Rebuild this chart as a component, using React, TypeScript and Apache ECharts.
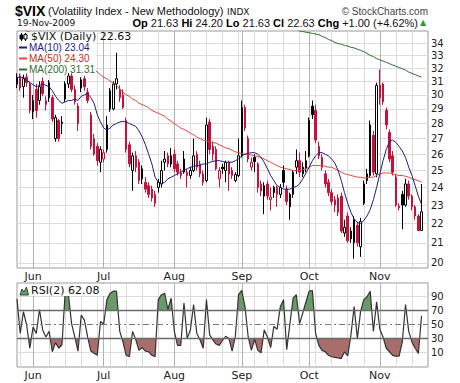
import React, { useEffect, useRef } from 'react';
import * as echarts from 'echarts';

// ---------- categories (trading days) ----------
const START_DATE = '2009-05-22';
const END_DATE = '2009-11-19';
const HOLIDAYS = ['2009-05-25', '2009-07-03', '2009-09-07'];
const MONTHS = ['Jan', 'Feb', 'Mar', 'Apr', 'May', 'Jun', 'Jul', 'Aug', 'Sep', 'Oct', 'Nov', 'Dec'];

function buildTradingDays(): string[] {
  const out: string[] = [];
  const d = new Date(START_DATE + 'T00:00:00Z');
  const end = new Date(END_DATE + 'T00:00:00Z');
  while (d.getTime() <= end.getTime()) {
    const dow = d.getUTCDay();
    const key = d.toISOString().slice(0, 10);
    if (dow !== 0 && dow !== 6 && HOLIDAYS.indexOf(key) < 0) out.push(key);
    d.setUTCDate(d.getUTCDate() + 1);
  }
  return out;
}
const dates = buildTradingDays();

// ---------- price data ($VIX daily OHLC) ----------
const opens = [
  30.8, 31.4, 30.6, 31.3, 30.8, 28.8, 30.4, 29.6, 31.0, 29.3,
  30.9, 29.8, 27.0, 28.2, 28.0, 29.7, 30.8, 31.4, 30.4, 29.2,
  30.5, 31.2, 30.2, 28.6, 27.0, 26.5, 25.5, 25.7, 26.3, 30.3,
  29.0, 30.8, 30.4, 30.0, 28.2, 26.6, 25.0, 25.9, 25.5, 25.1,
  24.3, 24.1, 23.9, 23.6, 24.0, 24.2, 25.5, 25.9, 25.4, 26.0,
  25.4, 24.7, 24.9, 24.9, 24.7, 25.0, 26.0, 25.4, 24.8, 24.4,
  28.1, 26.5, 26.3, 24.5, 25.2, 25.0, 25.5, 25.0, 24.4, 24.7,
  25.9, 29.1, 27.0, 25.2, 25.8, 25.4, 24.2, 23.5, 24.2, 23.3,
  24.0, 24.0, 23.6, 25.0, 23.9, 22.9, 23.6, 25.2, 25.6, 24.8,
  25.1, 25.9, 29.2, 28.9, 26.5, 25.8, 24.8, 24.3, 23.7, 23.3,
  23.4, 23.5, 21.5, 22.4, 21.6, 21.0, 21.9, 20.8, 23.1, 24.4,
  24.7, 27.2, 24.8, 30.7, 30.8, 28.9, 27.4, 25.9, 24.6, 22.85,
  23.6, 23.0, 24.2, 23.5, 22.9, 22.4, 21.63,
];
const highs = [
  31.6, 31.6, 31.5, 31.6, 31.0, 30.0, 30.8, 31.0, 31.3, 29.9,
  31.1, 30.0, 28.6, 28.3, 28.5, 31.0, 31.7, 31.6, 30.7, 29.4,
  31.3, 31.4, 30.5, 28.8, 27.3, 26.7, 26.5, 26.3, 28.5, 30.5,
  31.0, 33.2, 30.7, 30.4, 28.4, 26.8, 26.1, 26.2, 25.7, 25.3,
  24.6, 24.3, 24.1, 23.8, 24.5, 25.6, 26.2, 26.1, 26.4, 26.3,
  25.6, 25.1, 26.2, 25.1, 25.2, 27.0, 26.2, 25.6, 25.0, 28.4,
  28.3, 26.8, 26.5, 25.2, 25.4, 25.6, 25.6, 25.2, 24.9, 27.0,
  29.6, 29.3, 27.2, 25.8, 26.0, 25.5, 24.4, 24.3, 24.4, 24.0,
  24.1, 24.1, 24.2, 25.3, 24.1, 23.7, 25.0, 26.3, 26.1, 25.5,
  26.2, 28.4, 29.6, 29.3, 26.8, 26.0, 25.0, 24.5, 23.9, 23.5,
  23.6, 23.7, 22.2, 22.6, 21.8, 22.4, 22.1, 22.3, 24.4, 25.1,
  28.2, 27.5, 30.9, 31.9, 30.9, 29.1, 27.6, 26.2, 24.8, 23.1,
  23.8, 24.5, 24.4, 23.6, 23.0, 22.5, 24.2,
];
const lows = [
  30.5, 30.3, 29.8, 30.6, 28.7, 28.3, 28.4, 29.3, 29.9, 28.9,
  29.5, 28.1, 26.8, 26.8, 27.3, 29.5, 30.5, 30.2, 29.3, 27.5,
  30.2, 30.3, 29.4, 26.3, 25.9, 25.3, 24.9, 25.5, 26.1, 28.8,
  28.9, 30.4, 29.5, 29.0, 26.1, 25.2, 23.8, 24.9, 24.2, 24.2,
  23.7, 23.4, 23.2, 22.9, 23.7, 24.0, 25.0, 25.2, 25.2, 24.9,
  24.7, 24.5, 24.8, 24.0, 24.5, 24.9, 25.0, 24.6, 24.1, 24.3,
  26.0, 25.6, 25.0, 24.0, 24.8, 24.3, 23.8, 24.5, 24.3, 24.6,
  25.8, 27.5, 25.5, 25.0, 24.9, 23.7, 23.5, 22.5, 23.3, 22.7,
  23.4, 22.9, 23.4, 24.0, 23.0, 22.2, 23.4, 24.8, 24.6, 24.6,
  24.9, 25.8, 28.3, 26.7, 25.7, 25.0, 24.0, 23.5, 23.0, 22.6,
  22.4, 21.5, 21.3, 21.0, 21.0, 20.2, 20.8, 20.3, 23.0, 24.2,
  24.6, 24.7, 24.6, 29.3, 29.3, 27.6, 25.5, 24.7, 22.9, 22.7,
  21.7, 22.9, 23.3, 22.7, 22.2, 21.6, 21.63,
];
const closes = [
  31.3, 30.5, 31.2, 30.9, 28.9, 29.6, 28.9, 30.6, 30.1, 29.6,
  29.8, 28.3, 28.4, 27.0, 28.1, 30.8, 31.4, 30.4, 29.5, 28.0,
  31.1, 30.6, 29.6, 26.5, 26.0, 25.6, 26.3, 26.1, 27.9, 29.0,
  30.8, 31.2, 29.8, 29.1, 26.3, 25.4, 25.9, 25.2, 24.4, 24.5,
  23.9, 23.6, 23.4, 23.1, 24.3, 25.0, 25.7, 25.4, 25.9, 25.1,
  24.9, 24.85, 25.7, 24.7, 25.0, 25.9, 25.2, 24.8, 24.3, 27.9,
  26.3, 26.0, 25.1, 25.0, 25.1, 25.5, 24.8, 24.7, 24.75, 25.9,
  29.1, 27.7, 25.7, 25.5, 25.55, 24.0, 23.8, 24.1, 23.5, 23.45,
  23.7, 23.6, 24.0, 24.3, 23.2, 23.6, 24.9, 25.6, 24.9, 25.2,
  25.6, 28.2, 28.6, 26.9, 25.9, 25.2, 24.2, 23.7, 23.2, 23.0,
  22.6, 21.6, 21.8, 21.1, 21.2, 22.2, 21.0, 22.1, 24.2, 24.8,
  27.9, 24.9, 30.7, 29.8, 29.5, 27.9, 25.7, 24.9, 23.0, 22.95,
  23.0, 24.2, 23.5, 22.9, 22.4, 21.63, 22.63,
];

// ---------- overlays ----------
const ma10 = [
  31.3, 31.3, 31.3, 31.1, 30.9, 30.75, 30.6, 30.7, 30.8, 30.7,
  30.6, 30.3, 29.9, 29.6, 29.4, 29.5, 29.6, 29.6, 29.7, 29.6,
  29.9, 30.0, 30.1, 29.8, 29.4, 28.6, 28.1, 27.7, 27.55, 27.7,
  27.9, 28.0, 28.1, 28.15, 28.1, 28.0, 27.9, 27.8, 27.5, 27.1,
  26.6, 26.0, 25.4, 24.6, 24.3, 24.2, 24.3, 24.5, 24.6, 24.7,
  24.8, 24.9, 25.0, 25.1, 25.2, 25.25, 25.3, 25.3, 25.4, 25.4,
  25.5, 25.55, 25.6, 25.6, 25.55, 25.5, 25.5, 25.5, 25.6, 25.7,
  25.9, 26.0, 26.05, 26.1, 26.1, 26.0, 25.8, 25.5, 25.1, 24.7,
  24.4, 24.1, 24.0, 23.9, 23.9, 23.9, 24.0, 24.05, 24.2, 24.5,
  24.85, 25.2, 25.6, 25.9, 26.1, 26.1, 26.0, 25.9, 25.7, 25.45,
  25.0, 24.4, 23.7, 23.1, 22.6, 22.25, 22.05, 22.0, 22.15, 22.4,
  22.75, 23.3, 24.0, 24.8, 25.6, 26.3, 26.8, 26.9, 26.75, 26.5,
  26.2, 25.8, 25.2, 24.7, 24.1, 23.5, 23.04,
];
const ma50 = [
  35.5, 35.4, 35.2, 35.0, 34.9, 34.7, 34.5, 34.3, 34.2, 34.0,
  33.8, 33.7, 33.5, 33.4, 33.2, 33.1, 33.0, 32.9, 32.8, 32.6,
  32.5, 32.4, 32.2, 32.1, 31.9, 31.7, 31.5, 31.3, 31.2, 31.0,
  30.9, 30.7, 30.4, 30.2, 30.0, 29.9, 29.7, 29.6, 29.4, 29.3,
  29.2, 29.1, 28.9, 28.8, 28.7, 28.6, 28.5, 28.3, 28.15, 28.0,
  27.85, 27.7, 27.6, 27.5, 27.35, 27.25, 27.1, 27.0, 26.9, 26.85,
  26.8, 26.75, 26.7, 26.6, 26.5, 26.4, 26.35, 26.25, 26.15, 26.1,
  26.05, 26.0, 26.0, 25.95, 25.9, 25.85, 25.8, 25.7, 25.6, 25.5,
  25.4, 25.3, 25.2, 25.15, 25.1, 25.05, 25.0, 25.0, 25.0, 25.05,
  25.1, 25.2, 25.3, 25.3, 25.3, 25.3, 25.25, 25.2, 25.2, 25.1,
  25.0, 24.9, 24.8, 24.75, 24.7, 24.65, 24.6, 24.6, 24.55, 24.55,
  24.6, 24.6, 24.7, 24.8, 24.85, 24.85, 24.85, 24.8, 24.75, 24.7,
  24.7, 24.65, 24.6, 24.5, 24.45, 24.4, 24.3,
];
// MA(200) lies above the chart until late September
const MA200_HIDDEN_DAYS = 84;
const ma200Tail = [
  35.5, 35.4, 35.3, 35.15, 35.0, 34.95, 34.9, 34.85, 34.8, 34.75,
  34.7, 34.55, 34.45, 34.3, 34.2, 34.05, 33.95, 33.9, 33.8, 33.75,
  33.65, 33.6, 33.5, 33.4, 33.3, 33.15, 33.0, 32.9, 32.75, 32.65,
  32.55, 32.45, 32.35, 32.25, 32.15, 32.05, 31.95, 31.85, 31.7, 31.6,
  31.5, 31.4, 31.31,
];
const ma200: (number | null)[] = (new Array(MA200_HIDDEN_DAYS).fill(null) as (number | null)[]).concat(ma200Tail);

const rsi2 = [
  86, 37, 68, 49, 16, 46, 37, 71, 42, 32,
  40, 11, 24, 16, 21, 95, 93, 51, 32, 12,
  63, 56, 32, 12, 9, 6, 54, 50, 85, 94,
  97, 97, 40, 25, 6, 4, 40, 28, 13, 17,
  12, 11, 6, 4, 85, 92, 94, 71, 87, 40,
  20, 20, 80, 30, 42, 78, 37, 28, 16, 85,
  35, 28, 22, 20, 27, 33, 30, 12, 33, 92,
  98, 75, 32, 13, 29, 13, 9.5, 42, 32, 17,
  47, 43, 75, 85, 14, 51, 87, 92, 51, 66,
  82, 97, 98, 37, 20, 13, 11, 6, 4, 3,
  2.4, 1.4, 11, 5, 35, 75, 30, 68, 85, 89,
  97, 40, 82, 43, 32, 16, 11, 6, 4.8, 4.8,
  25, 78, 40, 25, 16, 8.6, 62.08,
];

// ---------- axis ticks ----------
const priceTicks = [20, 21, 22, 23, 24, 25, 26, 27, 28, 29, 30, 31, 32, 33, 34];
const PRICE_MIN = 19.76;
const PRICE_MAX = 35.0;
const rsiLabels = [10, 30, 50, 70, 90];
const rsiGridLevels = [10, 90];
const RSI_UPPER = 70;
const RSI_MID = 50;
const RSI_LOWER = 30;
const RSI_MIN = -10.6;
const RSI_MAX = 108.6;

// ---------- styles ----------
const SANS = 'Liberation Sans, Arial, sans-serif';
const VERD = 'DejaVu Sans, Verdana, sans-serif';
const RED = '#c8103c';
const BLACK = '#000000';
const NAVY = '#1d1d80';
const MA50_COLOR = '#e2463a';
const MA200_COLOR = '#2f6f2f';
const GREEN_FILL = '#6a9a6a';
const RED_FILL = '#a86e6c';
const WEEK_LINE = '#dcdcdc';
const MONTH_LINE = '#b2b2b2';
const H_LINE = '#dcdcdc';
const SLOT_MAX = 128;

const ln = (v: number) => Math.log(v);

function buildOption(): any {
  const last = closes.length - 1;
  const dow = (s: string) => new Date(s + 'T00:00:00Z').getUTCDay();
  const weekStart = dates.map((d, i) => i > 0 && dow(d) < dow(dates[i - 1]));
  const monthStart = dates.map((d, i) => i > 0 && d.slice(5, 7) !== dates[i - 1].slice(5, 7));
  const monthName = (v: string) => (v ? MONTHS[parseInt(v.slice(5, 7), 10) - 1] : '');

  const candleData = dates.map((_, i) => {
    const o = opens[i];
    const c = closes[i];
    const prev = i > 0 ? closes[i - 1] : o;
    const col = c < prev ? RED : BLACK;
    const fill = c > o ? '#ffffff' : col;
    return {
      value: [ln(o), ln(c), ln(lows[i]), ln(highs[i])],
      itemStyle: { color: fill, color0: fill, borderColor: col, borderColor0: col, borderWidth: 1 },
    };
  });

  const monthLabel = {
    show: true,
    interval: (i: number) => !!monthStart[i],
    formatter: (v: string) => monthName(v),
    margin: 3,
    fontSize: 11,
    fontFamily: VERD,
    color: '#222',
  };
  const catAxis = (gridIndex: number, extra: any) => ({
    type: 'category',
    gridIndex,
    data: dates,
    boundaryGap: false,
    max: SLOT_MAX,
    axisLine: { show: false },
    axisTick: { show: false },
    ...extra,
  });
  const weekAxis = (g: number) =>
    catAxis(g, {
      axisLabel: monthLabel,
      splitLine: { show: true, interval: (i: number) => !!weekStart[i], lineStyle: { color: WEEK_LINE, width: 1 } },
    });
  const monthAxis = (g: number) =>
    catAxis(g, {
      axisLabel: { show: false },
      splitLine: { show: true, interval: (i: number) => !!monthStart[i], lineStyle: { color: MONTH_LINE, width: 1 } },
    });

  const lnTicks = priceTicks.map(ln);

  const lineSeries = (data: (number | null)[], color: string) => ({
    type: 'line',
    xAxisIndex: 0,
    yAxisIndex: 0,
    data: data.map((v) => (v == null ? null : ln(v))),
    showSymbol: false,
    symbol: 'none',
    silent: true,
    connectNulls: false,
    lineStyle: { color, width: 1 },
    itemStyle: { color },
    z: 3,
  });

  const f2 = (v: number) => v.toFixed(2);
  const chg = closes[last] - closes[last - 1];
  const pct = (chg / closes[last - 1]) * 100;
  const sign = (v: number) => (v >= 0 ? '+' : '');
  const lastDate = dates[last];
  const dateText = `${parseInt(lastDate.slice(8, 10), 10)}-${monthName(lastDate)}-${lastDate.slice(0, 4)}`;
  const quote =
    `{b|Op} {n|${f2(opens[last])}} {b|Hi} {n|${f2(highs[last])}} {b|Lo} {n|${f2(lows[last])}} ` +
    `{b|Cl} {n|${f2(closes[last])}} {b|Chg} {n|${sign(chg)}${f2(chg)} (${sign(pct)}${f2(pct)}%)}`;

  const txt = (x: number, y: number, text: string, size: number, family: string, fill: string, extra: any = {}) => ({
    type: 'text',
    x,
    y,
    silent: true,
    z: 101,
    style: { text, fontSize: size, fontFamily: family, fill, verticalAlign: 'middle', ...extra },
  });
  const dash = (y: number, color: string) => ({
    type: 'line',
    silent: true,
    z: 101,
    shape: { x1: 19, y1: y, x2: 27, y2: y },
    style: { stroke: color, lineWidth: 2 },
  });

  const graphics = [
    txt(15, 11, '$VIX', 14, SANS, '#000', { fontWeight: 'bold' }),
    txt(48, 11, '(Volatility Index - New Methodology)', 11, SANS, '#111'),
    txt(227, 12, 'INDX', 9, VERD, '#111'),
    txt(428, 11, '\u00A9 StockCharts.com', 10, SANS, '#444', { align: 'right' }),
    txt(17, 23, dateText, 9, VERD, '#111'),
    {
      type: 'text',
      x: 418,
      y: 23,
      silent: true,
      z: 101,
      style: {
        text: quote,
        align: 'right',
        verticalAlign: 'middle',
        fontSize: 11,
        fontFamily: SANS,
        fill: '#111',
        rich: {
          b: { fontWeight: 'bold', fontSize: 11, fontFamily: SANS, fill: '#000' },
          n: { fontSize: 11, fontFamily: SANS, fill: '#111' },
        },
      },
    },
    txt(423, 22.5, '\u25B2', 8, VERD, '#2e9a2e', { align: 'center' }),
    // main legend
    { type: 'rect', silent: true, z: 100, shape: { x: 18, y: 32, width: 78, height: 41 }, style: { fill: '#ffffff' } },
    { type: 'line', silent: true, z: 101, shape: { x1: 21.5, y1: 33, x2: 21.5, y2: 41 }, style: { stroke: '#000', lineWidth: 1 } },
    { type: 'rect', silent: true, z: 101, shape: { x: 20, y: 35, width: 3, height: 4 }, style: { fill: '#000', stroke: '#000', lineWidth: 1 } },
    { type: 'line', silent: true, z: 101, shape: { x1: 25.5, y1: 33, x2: 25.5, y2: 41 }, style: { stroke: '#000', lineWidth: 1 } },
    { type: 'rect', silent: true, z: 102, shape: { x: 24, y: 34.5, width: 3, height: 4.5 }, style: { fill: '#fff', stroke: '#000', lineWidth: 1 } },
    txt(31, 36.5, `$VIX (Daily) ${f2(closes[last])}`, 11, VERD, '#111'),
    dash(47.5, NAVY),
    txt(29, 47.5, `MA(10) ${f2(ma10[last])}`, 10, SANS, NAVY),
    dash(58.5, MA50_COLOR),
    txt(29, 58.5, `MA(50) ${f2(ma50[last])}`, 10, SANS, '#cc2a22'),
    dash(69.5, MA200_COLOR),
    txt(29, 69.5, `MA(200) ${f2(ma200Tail[ma200Tail.length - 1])}`, 10, SANS, MA200_COLOR),
    // RSI legend
    { type: 'rect', silent: true, z: 100, shape: { x: 18, y: 284, width: 86, height: 12 }, style: { fill: '#ffffff' } },
    {
      type: 'polygon',
      silent: true,
      z: 101,
      shape: { points: [[20, 295], [22, 289], [24, 292], [26.5, 287], [28.5, 295]] },
      style: { fill: GREEN_FILL, stroke: '#2d4d2d', lineWidth: 1 },
    },
    txt(31, 290.5, `RSI(2) ${f2(rsi2[last])}`, 11, VERD, '#111'),
  ];

  return {
    animation: false,
    backgroundColor: '#ffffff',
    textStyle: { fontFamily: VERD },
    grid: [
      { left: 17, top: 31, width: 411, height: 237, show: true, borderColor: '#9a9a9a', borderWidth: 1, backgroundColor: 'transparent' },
      { left: 17, top: 283, width: 411, height: 84, show: true, borderColor: '#9a9a9a', borderWidth: 1, backgroundColor: 'transparent' },
    ],
    xAxis: [weekAxis(0), monthAxis(0), weekAxis(1), monthAxis(1)],
    yAxis: [
      {
        type: 'value',
        gridIndex: 0,
        position: 'right',
        min: ln(PRICE_MIN),
        max: ln(PRICE_MAX),
        axisLine: { show: false },
        axisTick: { show: false, customValues: lnTicks },
        splitLine: { show: true, lineStyle: { color: H_LINE, width: 1 } },
        axisLabel: {
          customValues: lnTicks,
          formatter: (v: number) => String(Math.round(Math.exp(v))),
          margin: 3,
          fontSize: 10,
          fontFamily: VERD,
          color: '#222',
        },
      },
      {
        type: 'value',
        gridIndex: 1,
        position: 'right',
        min: RSI_MIN,
        max: RSI_MAX,
        axisLine: { show: false },
        axisTick: { show: false, customValues: rsiGridLevels },
        splitLine: { show: true, lineStyle: { color: H_LINE, width: 1 } },
        axisLabel: { customValues: rsiLabels, margin: 3, fontSize: 10, fontFamily: VERD, color: '#222' },
      },
    ],
    visualMap: [
      {
        type: 'piecewise',
        show: false,
        seriesIndex: 4,
        dimension: 1,
        pieces: [
          { lt: RSI_LOWER, color: RED_FILL },
          { gte: RSI_LOWER, lte: RSI_UPPER, color: 'rgba(0,0,0,0)' },
          { gt: RSI_UPPER, color: GREEN_FILL },
        ],
      },
    ],
    series: [
      {
        type: 'candlestick',
        xAxisIndex: 0,
        yAxisIndex: 0,
        data: candleData,
        barWidth: 2,
        silent: true,
        z: 2,
      },
      lineSeries(ma200, MA200_COLOR),
      lineSeries(ma50, MA50_COLOR),
      lineSeries(ma10, NAVY),
      {
        type: 'line',
        xAxisIndex: 2,
        yAxisIndex: 1,
        data: rsi2,
        showSymbol: false,
        symbol: 'none',
        silent: true,
        lineStyle: { width: 0, opacity: 0 },
        areaStyle: { origin: RSI_MID, opacity: 1 },
        z: 2,
      },
      {
        type: 'line',
        xAxisIndex: 2,
        yAxisIndex: 1,
        data: rsi2,
        showSymbol: false,
        symbol: 'none',
        silent: true,
        lineStyle: { color: '#333333', width: 1.2 },
        itemStyle: { color: '#333333' },
        z: 4,
        markLine: {
          silent: true,
          symbol: ['none', 'none'],
          label: { show: false },
          animation: false,
          data: [
            { yAxis: RSI_UPPER, lineStyle: { color: '#6a6a6a', width: 1.3, type: 'solid' } },
            { yAxis: RSI_LOWER, lineStyle: { color: '#6a6a6a', width: 1.3, type: 'solid' } },
            { yAxis: RSI_MID, lineStyle: { color: '#7a7a7a', width: 1, type: [6, 3, 2, 3] } },
          ],
        },
      },
    ],
    graphic: { elements: graphics },
  };
}

export default function App() {
  const ref = useRef<HTMLDivElement>(null);
  useEffect(() => {
    if (!ref.current) return;
    const chart = echarts.init(ref.current, null, { renderer: 'svg' });
    chart.setOption(buildOption());
    return () => chart.dispose();
  }, []);
  return (
    <div
      ref={ref}
      style={{ position: 'absolute', left: 0, top: 0, width: 460, height: 383, background: '#ffffff' }}
    />
  );
}
